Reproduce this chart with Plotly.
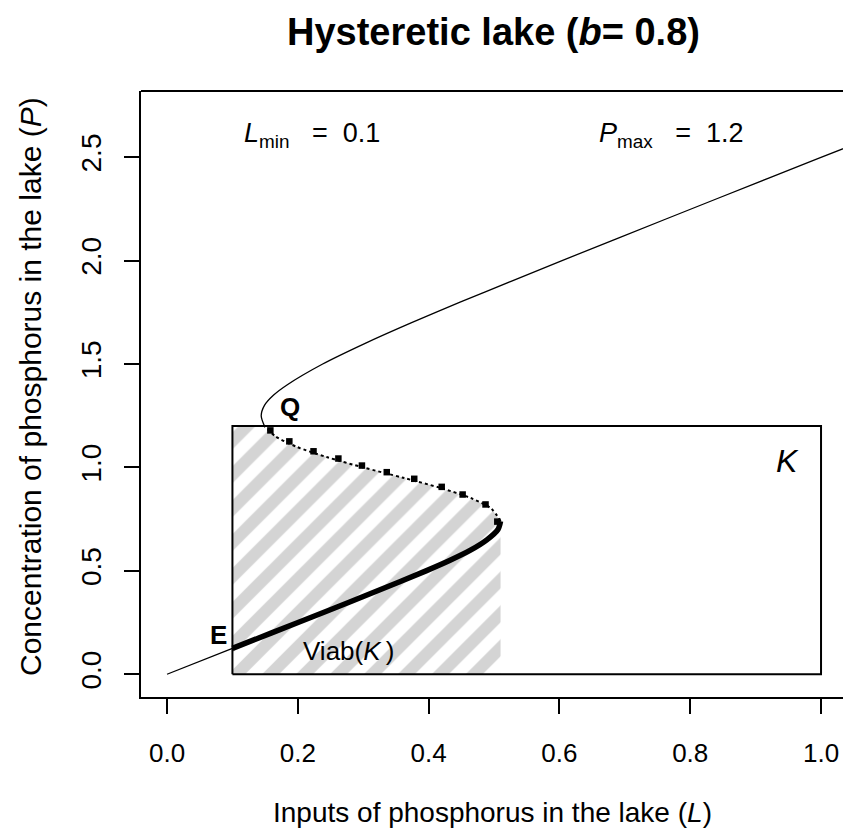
import plotly.graph_objects as go

# ---- data (L = inputs, P = concentration) ----
# thin lower part of the equilibrium curve (origin to E)
L_low = [0.0, 0.05, 0.1]
P_low = [0.0, 0.0625, 0.125]
# stable (lower) branch inside K: thick line from E to the fold
L_stable = [0.1, 0.16, 0.24, 0.319, 0.396, 0.432, 0.464, 0.489, 0.506, 0.510]
P_stable = [0.125, 0.2, 0.3, 0.4, 0.5, 0.55, 0.6, 0.65, 0.7, 0.74]
# unstable (middle) branch: dotted, from the fold to Q
L_unstable = [0.510, 0.496, 0.466, 0.419, 0.361, 0.300, 0.244, 0.198, 0.166, 0.149]
P_unstable = [0.74, 0.8, 0.85, 0.9, 0.95, 1.0, 1.05, 1.1, 1.15, 1.2]
# upper branch above P = 1.2
L_upper = [0.149, 0.144, 0.149, 0.163, 0.184, 0.238, 0.303, 0.374, 0.449, 0.526,
           0.604, 0.762, 0.921, 1.081, 1.160]
P_upper = [1.2, 1.25, 1.3, 1.35, 1.4, 1.5, 1.6, 1.7, 1.8, 1.9,
           2.0, 2.2, 2.4, 2.6, 2.7]
# square markers along the unstable branch
L_marks = [0.158, 0.187, 0.224, 0.262, 0.298, 0.336, 0.378, 0.420, 0.452, 0.487, 0.505]
P_marks = [1.179, 1.126, 1.078, 1.043, 1.009, 0.977, 0.945, 0.906, 0.869, 0.821, 0.738]
# constraint set K
L_min, L_max = 0.1, 1.0
P_min, P_max = 0.0, 1.2

x_ticks = [0.0, 0.2, 0.4, 0.6, 0.8, 1.0]
x_ticktext = ["0.0", "0.2", "0.4", "0.6", "0.8", "1.0"]
y_ticks = [0.0, 0.5, 1.0, 1.5, 2.0, 2.5]
y_ticktext = ["0.0", "0.5", "1.0", "1.5", "2.0", "2.5"]

FONT = "Liberation Sans, Arial, Helvetica, sans-serif"

fig = go.Figure()

# hatched viability kernel: below the unstable branch, within K
hatch_x = [L_min, max(L_stable), max(L_stable)] + L_unstable + [L_min, L_min]
hatch_y = [P_min, P_min, P_stable[-1]] + P_unstable + [P_max, P_min]
fig.add_trace(go.Scatter(
    x=hatch_x, y=hatch_y, mode="none", fill="toself",
    fillcolor="rgba(0,0,0,0)",
    fillpattern=dict(shape="/", size=24, solidity=0.5,
                     fgcolor="#d4d4d4", fgopacity=1, bgcolor="white"),
    hoverinfo="skip"))

# K box
fig.add_trace(go.Scatter(
    x=[L_min, L_max, L_max, L_min, L_min],
    y=[P_min, P_min, P_max, P_max, P_min],
    mode="lines", line=dict(color="black", width=2), hoverinfo="skip"))

# curve pieces
fig.add_trace(go.Scatter(x=L_low, y=P_low, mode="lines",
                         line=dict(color="black", width=1.3)))
fig.add_trace(go.Scatter(x=L_upper, y=P_upper, mode="lines",
                         line=dict(color="black", width=1.3, shape="spline", smoothing=0.8)))
fig.add_trace(go.Scatter(x=L_unstable, y=P_unstable, mode="lines",
                         line=dict(color="black", width=2, dash="dot",
                                   shape="spline", smoothing=0.8)))
fig.add_trace(go.Scatter(x=L_stable, y=P_stable, mode="lines",
                         line=dict(color="black", width=5.5, shape="spline", smoothing=0.8)))
fig.add_trace(go.Scatter(x=L_marks, y=P_marks, mode="markers",
                         marker=dict(symbol="square", size=6.5, color="black")))

annotations = [
    dict(text="<b>Hysteretic lake (<i>b</i>= 0.8)</b>", xref="paper", yref="paper",
         x=(494 - 141) / 702, y=1 + (91 - 32) / 606, showarrow=False,
         font=dict(size=38, family=FONT, color="black"), xanchor="center", yanchor="middle"),
    dict(text="Inputs of phosphorus in the lake (<i>L</i>)", xref="paper", yref="paper",
         x=(492 - 141) / 702, y=-(812 - 697) / 606, showarrow=False,
         font=dict(size=28, family=FONT, color="black"), xanchor="center", yanchor="middle"),
    dict(text="Concentration of phosphorus in the lake (<i>P</i>)", xref="paper", yref="paper",
         x=-(141 - 30) / 702, y=(697 - 387) / 606, showarrow=False, textangle=-90,
         font=dict(size=30, family=FONT, color="black"), xanchor="center", yanchor="middle"),
    dict(text="<i>L</i><sub>min</sub>\u00a0\u00a0\u00a0=\u00a0\u00a00.1", x=0.222, y=2.605,
         showarrow=False, font=dict(size=27, family=FONT, color="black")),
    dict(text="<i>P</i><sub>max</sub>\u00a0\u00a0\u00a0=\u00a0\u00a01.2", x=0.772, y=2.605,
         showarrow=False, font=dict(size=27, family=FONT, color="black")),
    dict(text="<b>Q</b>", x=0.188, y=1.29, showarrow=False,
         font=dict(size=26, family=FONT, color="black")),
    dict(text="<b>E</b>", x=0.078, y=0.190, showarrow=False,
         font=dict(size=26, family=FONT, color="black")),
    dict(text="Viab(<i>K</i>\u2009)", x=0.278, y=0.113, showarrow=False,
         font=dict(size=26, family=FONT, color="black")),
    dict(text="<i>K</i>", x=0.948, y=1.03, showarrow=False,
         font=dict(size=32, family=FONT, color="black")),
]

fig.update_layout(
    width=843, height=833,
    margin=dict(l=141, r=0, t=91, b=136),
    plot_bgcolor="white", paper_bgcolor="white",
    showlegend=False,
    annotations=annotations,
    shapes=[dict(type="line", xref="paper", yref="paper", x0=0, x1=1, y0=1, y1=1,
                 line=dict(color="black", width=2))],
    xaxis=dict(range=[-0.0398, 1.0336], showgrid=False, zeroline=False,
               showline=True, linecolor="black", linewidth=2,
               ticks="outside", ticklen=15, tickwidth=1.5, tickcolor="black",
               tickvals=x_ticks, ticktext=x_ticktext, ticklabelstandoff=17,
               tickfont=dict(size=26, family=FONT, color="black")),
    yaxis=dict(range=[-0.110, 2.820], showgrid=False, zeroline=False,
               showline=True, linecolor="black", linewidth=2,
               ticks="outside", ticklen=15, tickwidth=1.5, tickcolor="black",
               tickvals=y_ticks, ticktext=y_ticktext, tickangle=-90, ticklabelstandoff=12,
               tickfont=dict(size=28, family=FONT, color="black")),
)

fig.write_html("out.html")
